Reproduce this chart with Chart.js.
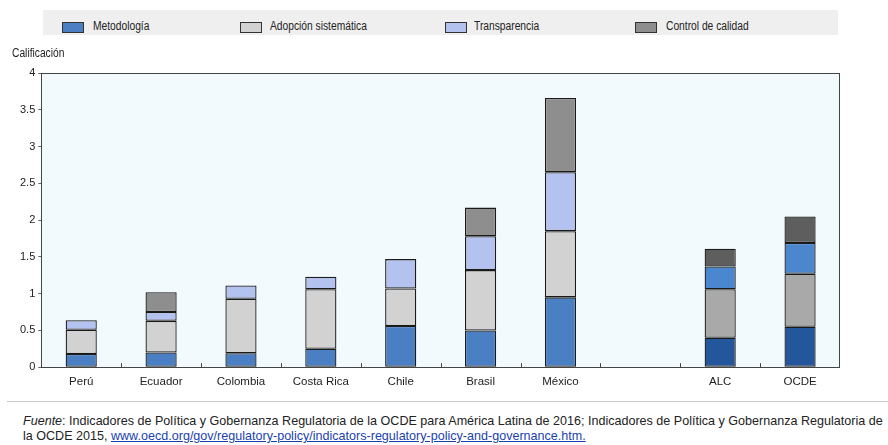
<!DOCTYPE html>
<html>
<head>
<meta charset="utf-8">
<script src="https://cdn.jsdelivr.net/npm/chart.js@4.4.1/dist/chart.umd.min.js"></script>
<style>
  body { margin: 0; background: #fff; font-family: "Liberation Sans", Arial, sans-serif; color: #222; }
  #wrap { position: relative; width: 888px; height: 445px; overflow: hidden; }
  #chart-box { position: absolute; left: 0; top: 0; width: 888px; height: 389px; }
  #legend { position: absolute; left: 43px; top: 10px; width: 795px; height: 25px; background: #efefef; }
  .box { position: absolute; top: 12px; width: 20px; height: 9px; border: 1px solid #333; }
  .lbl { position: absolute; top: 9px; font-size: 12.5px; white-space: nowrap; transform: scaleX(0.82); transform-origin: left center; }
  #ytitle { position: absolute; left: 12px; top: 46px; font-size: 12.5px; transform: scaleX(0.82); transform-origin: left center; }
  #rule { position: absolute; left: 7px; top: 401px; width: 881px; height: 1px; background: #c8c8c8; }
  .note { position: absolute; left: 23px; font-size: 13px; white-space: nowrap; transform-origin: left center; color: #222; }
  .note a { color: #1a3fb0; }
</style>
</head>
<body>
<div id="wrap">
  <div id="chart-box"><canvas id="chart"></canvas></div>
  <div id="legend"></div>
  <div id="ytitle">Calificación</div>
  <div id="rule"></div>
  <div class="note" id="note1" style="top:413px"><i>Fuente</i>: Indicadores de Política y Gobernanza Regulatoria de la OCDE para América Latina de 2016; Indicadores de Política y Gobernanza Regulatoria de</div>
  <div class="note" id="note2" style="top:428px">la OCDE 2015, <a href="#">www.oecd.org/gov/regulatory-policy/indicators-regulatory-policy-and-governance.htm.</a></div>
</div>
<script>
// Categories (empty slot separates the countries from ALC / OCDE)
const categories = ['Perú', 'Ecuador', 'Colombia', 'Costa Rica', 'Chile', 'Brasil', 'México', '', 'ALC', 'OCDE'];
const yTicks = [0, 0.5, 1, 1.5, 2, 2.5, 3, 3.5, 4];

// Series values
const metodologia   = [0.18, 0.20, 0.19, 0.25, 0.56, 0.50, 0.95, null, 0.40, 0.55];
const adopcion      = [0.33, 0.43, 0.74, 0.81, 0.51, 0.82, 0.90, null, 0.66, 0.72];
const transparencia = [0.13, 0.12, 0.18, 0.17, 0.40, 0.46, 0.80, null, 0.31, 0.42];
const control       = [0,    0.27, 0,    0,    0,    0.39, 1.01, null, 0.24, 0.36];

const seriesNames = ['Metodología', 'Adopción sistemática', 'Transparencia', 'Control de calidad'];
// country colour / aggregate (ALC, OCDE) colour
const mainColors = ['#4a7fc4', '#d2d2d2', '#b3c2ee', '#8e8e8e'];
const altColors  = ['#24569c', '#a9a9a9', '#4b87cf', '#5e5e5e'];

// Legend positions in the grey band
const legendBoxX  = [19, 197, 402, 592];
const legendTextX = [50, 227, 431, 623];

function pick(main, alt) {
    return function(ctx) {
        return ctx.dataIndex >= 8 ? alt : main;
    };
}

function makeSeries(i, data) {
    return {
        label: seriesNames[i],
        data: data,
        backgroundColor: pick(mainColors[i], altColors[i]),
        borderColor: '#1a1a1a',
        borderWidth: 1.3,
        borderSkipped: false,
        barPercentage: 0.39,
        categoryPercentage: 1
    };
}

// Build the legend
const legend = document.getElementById('legend');
seriesNames.forEach(function(name, i) {
    const box = document.createElement('div');
    box.className = 'box';
    box.style.left = legendBoxX[i] + 'px';
    box.style.background = mainColors[i];
    legend.appendChild(box);
    const lbl = document.createElement('div');
    lbl.className = 'lbl';
    lbl.style.left = legendTextX[i] + 'px';
    lbl.textContent = name;
    legend.appendChild(lbl);
});

// Fit the source note to the width used in the picture
const note1 = document.getElementById('note1');
const note2 = document.getElementById('note2');
const k = 860 / note1.offsetWidth;
note1.style.transform = 'scaleX(' + k + ')';
note2.style.transform = 'scaleX(' + k + ')';

// Plot background and frame
const decor = {
    id: 'decor',
    beforeDraw(chart) {
        const { ctx, chartArea: a } = chart;
        ctx.save();
        ctx.fillStyle = '#f3fafd';
        ctx.fillRect(a.left, a.top, a.right - a.left, a.bottom - a.top);
        ctx.restore();
    },
    afterDraw(chart) {
        const { ctx, chartArea: a } = chart;
        const x = chart.scales.x;
        ctx.save();
        ctx.strokeStyle = '#444';
        ctx.lineWidth = 1;
        ctx.strokeRect(Math.round(a.left) + 0.5, Math.round(a.top) + 0.5,
            Math.round(a.right - a.left) - 1, Math.round(a.bottom - a.top));
        // small upward ticks between categories
        ctx.beginPath();
        for (let i = 1; i < categories.length; i++) {
            const px = Math.round((x.getPixelForValue(i - 1) + x.getPixelForValue(i)) / 2) + 0.5;
            ctx.moveTo(px, a.bottom);
            ctx.lineTo(px, a.bottom - 4);
        }
        ctx.stroke();
        ctx.restore();
    }
};

const fontFamily = '"Liberation Sans", Arial, sans-serif';

new Chart(document.getElementById('chart'), {
    type: 'bar',
    data: {
        labels: categories,
        datasets: [
            makeSeries(0, metodologia),
            makeSeries(1, adopcion),
            makeSeries(2, transparencia),
            makeSeries(3, control)
        ]
    },
    options: {
        responsive: true,
        maintainAspectRatio: false,
        animation: false,
        layout: {
            padding: { left: 17, right: 48, top: 73, bottom: 0 }
        },
        plugins: {
            legend: { display: false },
            tooltip: { enabled: false }
        },
        scales: {
            x: {
                stacked: true,
                grid: { display: false },
                border: { display: false },
                ticks: {
                    color: '#222',
                    font: { family: fontFamily, size: 11.5 },
                    padding: 0,
                    maxRotation: 0
                }
            },
            y: {
                stacked: true,
                min: 0,
                max: 4,
                afterBuildTicks: function(axis) {
                    axis.ticks = yTicks.map(v => ({ value: v }));
                },
                grid: {
                    drawOnChartArea: false,
                    tickLength: 3,
                    color: '#666'
                },
                border: { display: false },
                ticks: {
                    color: '#222',
                    font: { family: fontFamily, size: 11 },
                    padding: 3,
                    callback: function(value) {
                        return String(value);
                    }
                }
            }
        }
    },
    plugins: [decor]
});
</script>
</body>
</html>
